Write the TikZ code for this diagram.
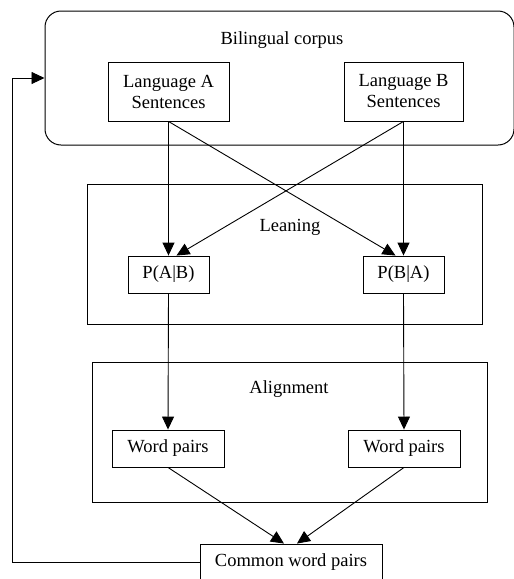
\documentclass[tikz,border=0pt]{standalone}
\usepackage{fontspec}
\setmainfont{Liberation Serif}
\usetikzlibrary{arrows.meta}
\begin{document}
\begin{tikzpicture}[x=1pt,y=-1pt,
  every node/.style={font=\fontsize{18.5}{21}\selectfont, inner sep=0pt},
  box/.style={draw, line width=0.9pt, rectangle, align=center},
  group/.style={draw, line width=1pt, rectangle},
  lbl/.style={},
  conn/.style={line width=0.9pt, -{Triangle[length=13pt,width=12pt]}}]
\useasboundingbox (0,0) rectangle (514,579);
% containers
\node[group, rounded corners=16pt, minimum width=469pt, minimum height=134pt] (corpus) at (279.5,78) {};
\node[lbl] (corpuslbl) at (282,40) {Bilingual corpus};
\node[group, minimum width=395pt, minimum height=140pt] (lean) at (284.5,254) {};
\node[lbl] (leanlbl) at (290,227) {Leaning};
\node[group, minimum width=395pt, minimum height=140pt] (align) at (289.5,432) {};
\node[lbl] (alignlbl) at (289,389) {Alignment};
% boxes
\node[box, minimum width=121pt, minimum height=59pt] (langA) at (168.5,91.5) {Language A\\Sentences};
\node[box, minimum width=119pt, minimum height=59pt] (langB) at (403.5,91.5) {Language B\\Sentences};
\node[box, minimum width=81pt, minimum height=37pt] (pab) at (168.5,274.5) {P(A|B)};
\node[box, minimum width=81pt, minimum height=37pt] (pba) at (403.5,274.5) {P(B|A)};
\node[box, minimum width=112pt, minimum height=37pt] (wpl) at (168,448.5) {Word pairs};
\node[box, minimum width=112pt, minimum height=37pt] (wpr) at (404,448.5) {Word pairs};
\node[box, minimum width=182pt, minimum height=37pt] (common) at (291,562.5) {Common word pairs};
\coordinate (fb) at (12,78);
% connectors
\draw[conn] (langA.south) -- (pab.north);
\draw[conn] (langA.south) -- ([xshift=-8pt]pba.north);
\draw[conn] (langB.south) -- (pba.north);
\draw[conn] (langB.south) -- ([xshift=8pt]pab.north);
\draw[conn] (pab.south) -- (wpl.north);
\draw[conn] (pba.south) -- (wpr.north);
\draw[conn] (wpl.south) -- ([xshift=-7pt]common.north);
\draw[conn] (wpr.south) -- ([xshift=6pt]common.north);
\draw[conn] (common.west) -| (fb) -- (corpus.west);
\end{tikzpicture}
\end{document}
